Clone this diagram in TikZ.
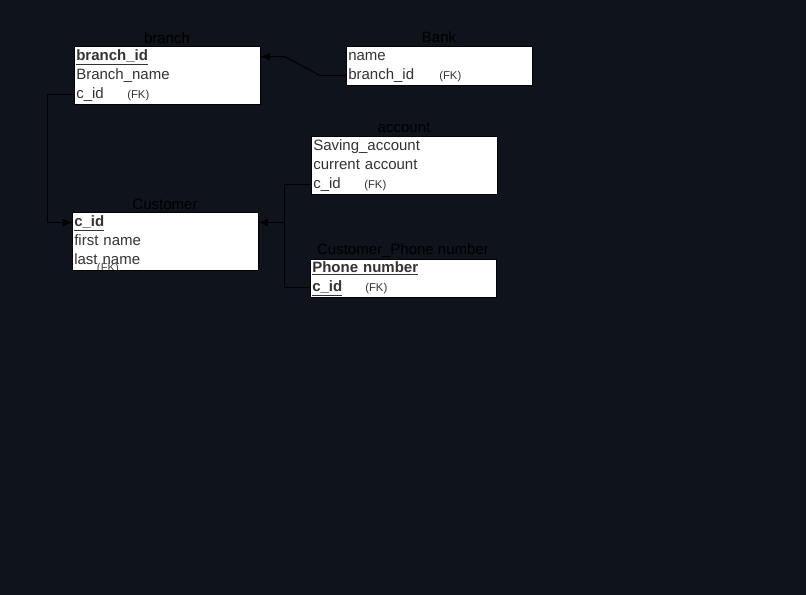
\documentclass[tikz,border=0pt]{standalone}
\usepackage{fontspec}
\setmainfont{Liberation Sans}
\usepackage{tikz}
\usetikzlibrary{arrows.meta, positioning}
\definecolor{bgdark}{RGB}{15, 19, 27}
\definecolor{rowtext}{RGB}{51, 51, 51}
\definecolor{fkgray}{RGB}{70, 70, 70}
\newcommand{\fk}{{\fontsize{8.5}{9}\selectfont(FK)}}
\newcommand{\keyattr}[1]{\underline{\textbf{#1}}}

\begin{document}
\begin{tikzpicture}[x=0.75pt, y=-0.75pt,
    row/.style={rectangle, inner xsep=1.5pt, inner ysep=0pt, minimum height=13.875pt,
        text width=136.5pt, align=left, text=rowtext, text height=8.4pt, text depth=2.6pt,
        font=\fontsize{11.25}{13}\selectfont},
    tabtitle/.style={anchor=base, inner sep=0pt, text=black, font=\fontsize{11.25}{13}\selectfont},
    link/.style={black, line width=0.75pt},
    tip/.style={-{Latex[length=7pt, width=6pt]}}]
    % background
    \fill[bgdark] (0,0) rectangle (806,595);
    \useasboundingbox (0,0) rectangle (806,595);

    % branch
    \node[row, anchor=north west, fill=white] (brid) at (74,47) {\keyattr{branch\_id}};
    \node[row, below=0pt of brid, fill=white] (brname) {Branch\_name};
    \node[row, below=0pt of brname, fill=white] (brcid) {\makebox[38.25pt][l]{c\_id}\fk};
    \draw[black, line width=0.75pt] (brid.north west) rectangle (brcid.south east);
    \node[tabtitle] (brtitle) at (167,43.5) {branch};

    % Bank
    \node[row, anchor=north west, fill=white] (bkname) at (346,47) {name};
    \node[row, below=0pt of bkname, fill=white] (bkbid) {\makebox[68.25pt][l]{branch\_id}\fk};
    \draw[black, line width=0.75pt] (bkname.north west) rectangle (bkbid.south east);
    \node[tabtitle] (bktitle) at (439,42.5) {Bank};

    % account
    \node[row, anchor=north west, fill=white] (acsave) at (311,137) {Saving\_account};
    \node[row, below=0pt of acsave, fill=white] (accur) {current account};
    \node[row, below=0pt of accur, fill=white] (accid) {\makebox[38.25pt][l]{c\_id}\fk};
    \draw[black, line width=0.75pt] (acsave.north west) rectangle (accid.south east);
    \node[tabtitle] (actitle) at (404,132.5) {account};

    % Customer
    \node[row, anchor=north west, fill=white] (cuid) at (72,213) {\keyattr{c\_id}};
    \node[row, below=0pt of cuid, fill=white] (cufirst) {first name};
    \node[row, below=0pt of cufirst, fill=white] (culast) {last name};
    \begin{scope}
        \clip (cuid.north west) rectangle (culast.south east);
        \node[text=fkgray, inner sep=0pt] (custray) at (108,269) {\fk};
    \end{scope}
    \draw[black, line width=0.75pt] (cuid.north west) rectangle (culast.south east);
    \node[tabtitle] (cutitle) at (165,209.5) {Customer};

    % Customer_Phone number
    \node[row, anchor=north west, fill=white] (phnum) at (310,259) {\keyattr{Phone number}};
    \node[row, below=0pt of phnum, fill=white] (phcid) {\makebox[39.75pt][l]{\keyattr{c\_id}}\fk};
    \draw[black, line width=0.75pt] (phnum.north west) rectangle (phcid.south east);
    \node[tabtitle] (phtitle) at (403,254.5) {Customer\_Phone number};

    % connectors
    \draw[link, tip] (bkbid.west) -- ++(-26,0) -- ([xshift=18pt]brid.east) -- (brid.east);
    \draw[link, tip] (brcid.west) -- ++(-27,0) |- (cuid.west);
    \draw[link] (accid.west) -- ++(-27,0) |- (phcid.west);
    \draw[link, tip] (accid.west) ++(-27,0) |- (cuid.east);
\end{tikzpicture}
\end{document}
